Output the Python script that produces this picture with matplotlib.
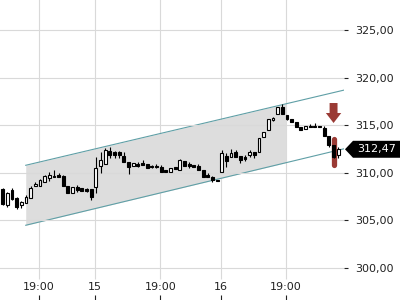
import numpy as np
import matplotlib
matplotlib.use("Agg")
import matplotlib.pyplot as plt
from matplotlib.patches import Polygon
from matplotlib.transforms import blended_transform_factory

# data candle (per index)
opens = [308.30, 306.62, 308.19, 307.35, 306.62, 306.83, 307.35, 308.62, 308.62, 309.03,
         309.45, 309.66, 309.77, 309.66, 308.62, 307.87, 308.51, 308.40, 308.30, 308.30,
         308.51, 310.71, 310.93, 312.29, 312.19, 312.19, 311.77, 311.13, 310.71, 310.93,
         311.03, 310.93, 310.71, 310.71, 310.61, 310.29, 310.08, 310.61, 310.29, 311.24,
         310.93, 310.82, 310.71, 310.29, 309.77, 309.56, 309.24, 310.08, 311.77, 311.66,
         312.19, 311.77, 311.66, 311.87, 312.19, 312.19, 313.76, 314.50, 315.55, 316.18,
         316.91, 316.07, 315.65, 315.34, 314.81, 314.60, 314.92, 314.92, 314.92, 314.71,
         313.87, 312.92, 311.87]
highs = [308.40, 307.98, 308.40, 307.46, 307.04, 307.67, 308.62, 309.03, 309.35, 309.77,
         310.08, 310.29, 309.97, 309.77, 308.62, 308.51, 308.72, 308.40, 308.40, 308.30,
         311.66, 312.19, 312.61, 312.71, 312.29, 312.29, 312.19, 311.13, 311.03, 311.13,
         311.34, 310.93, 310.82, 310.93, 310.82, 310.29, 310.50, 310.61, 311.45, 311.24,
         311.13, 310.82, 310.93, 310.29, 309.97, 309.66, 309.24, 312.39, 312.08, 312.50,
         312.39, 311.77, 311.87, 312.39, 312.19, 313.66, 314.28, 315.65, 315.86, 316.91,
         317.23, 316.07, 315.65, 315.34, 314.81, 314.92, 315.13, 315.23, 314.92, 314.92,
         313.87, 312.92, 312.71]
lows = [306.62, 306.41, 307.14, 306.20, 306.30, 306.83, 307.35, 308.62, 308.62, 309.03,
        309.14, 309.56, 309.56, 308.62, 307.87, 307.87, 307.98, 308.09, 307.98, 307.14,
        307.87, 309.97, 310.93, 311.55, 311.55, 311.55, 311.13, 309.87, 310.71, 310.61,
        310.82, 310.50, 310.50, 310.50, 310.08, 310.08, 310.08, 310.40, 310.29, 310.71,
        310.50, 310.61, 310.29, 309.56, 309.56, 309.03, 309.19, 310.08, 310.61, 311.66,
        311.66, 311.03, 311.24, 311.66, 311.55, 312.19, 313.76, 314.50, 315.44, 316.18,
        316.18, 315.55, 315.34, 314.81, 314.50, 314.60, 314.81, 314.81, 314.81, 313.87,
        312.71, 311.55, 311.55]
closes = [306.72, 307.87, 307.25, 306.41, 306.93, 307.46, 308.40, 308.82, 309.24, 309.66,
          309.77, 309.58, 309.56, 308.62, 307.87, 308.51, 308.19, 308.09, 308.09, 307.46,
          310.50, 311.34, 312.39, 311.87, 311.87, 311.87, 311.13, 310.61, 311.03, 310.71,
          310.82, 310.50, 310.61, 310.61, 310.08, 310.08, 310.50, 310.40, 311.34, 310.71,
          310.71, 310.61, 310.29, 309.56, 309.56, 309.24, 309.19, 312.08, 311.24, 312.08,
          311.66, 311.34, 311.45, 312.19, 311.87, 313.66, 314.28, 315.65, 315.76, 316.91,
          316.18, 315.65, 315.34, 314.81, 314.50, 314.92, 314.81, 314.81, 314.81, 313.87,
          312.92, 311.66, 312.47]

# sumbu x
tick_pos = [7.8, 19.8, 33.8, 46.9, 60.8]
tick_labels = ["19:00", "15", "19:00", "16", "19:00"]
price_ticks = [300, 305, 310, 315, 320, 325]

# trend channel (index, harga)
channel_x = [4.94, 73.45]
channel_upper = [310.79, 318.71]
channel_lower = [304.49, 312.55]
channel_fill_end = 60.8

# sinyal jual
signal_idx = 71
signal_bar = [310.87, 313.55]
arrow_tip = 315.23
arrow_top = 317.33

x = np.arange(len(closes))
o = np.array(opens)
c = np.array(closes)
naik = c >= o

fig = plt.figure(figsize=(4, 3), dpi=100)
ax = fig.add_axes([0, 0, 344 / 400, 1])
ax.set_xlim(-0.58, 73.24)
ax.set_ylim(296.64, 328.15)

# grid
ax.set_yticks(price_ticks)
ax.grid(axis='y', color='#d9d9d9', linewidth=0.8, zorder=0)
ax.vlines(tick_pos, 298.8, 330, color='#d9d9d9', linewidth=0.8, zorder=0)

# channel
xf = np.linspace(channel_x[0], channel_fill_end, 50)
up_f = np.interp(xf, channel_x, channel_upper)
lo_f = np.interp(xf, channel_x, channel_lower)
ax.fill_between(xf, lo_f, up_f, color='#dddddd', linewidth=0, zorder=0.5)
ax.plot(channel_x, channel_upper, color='#5f9fa6', linewidth=0.8, zorder=1)
ax.plot(channel_x, channel_lower, color='#5f9fa6', linewidth=0.8, zorder=1)

# sinyal (bar merah dan panah)
merah = '#9a3a34'
ax.plot([signal_idx, signal_idx], signal_bar, color=merah, linewidth=3.8,
        solid_capstyle='round', zorder=1.8)
head = arrow_top - (arrow_top - arrow_tip) / 2
arrow = Polygon([(signal_idx - 0.85, arrow_top), (signal_idx + 0.85, arrow_top),
                 (signal_idx + 0.85, head), (signal_idx + 1.65, head),
                 (signal_idx, arrow_tip), (signal_idx - 1.65, head),
                 (signal_idx - 0.85, head)],
                closed=True, facecolor=merah, edgecolor='none', zorder=3)
ax.add_patch(arrow)

# candlestick
ax.vlines(x, lows, highs, color='black', linewidth=0.8, zorder=2)
body = np.where(np.abs(c - o) < 0.03, 0.03, c - o)
ax.bar(x, body, bottom=o, width=0.62, color=np.where(naik, 'white', 'black'),
       edgecolor='black', linewidth=0.8, zorder=3)

# sumbu
for s in ax.spines.values():
    s.set_visible(False)
ax.set_xticks(tick_pos)
ax.set_xticklabels(tick_labels)
ax.tick_params(axis='x', direction='in', length=3.5, width=0.8, pad=-13,
               labelsize=8, colors='#222222')
ax.yaxis.tick_right()
ax.set_yticklabels([f"{v:.2f}".replace('.', ',') for v in price_ticks])
ax.tick_params(axis='y', direction='out', length=3, width=0.8, pad=5,
               labelsize=8, colors='#222222')

# label harga terakhir
last = closes[-1]
tr = blended_transform_factory(fig.transFigure, ax.transData)
label = Polygon([(345 / 400, last), (353 / 400, last + 0.89), (1.0, last + 0.89),
                 (1.0, last - 0.89), (353 / 400, last - 0.89)],
                closed=True, facecolor='black', edgecolor='none',
                transform=tr, clip_on=False, zorder=5)
fig.patches.append(label)
fig.text(357 / 400, last, f"{last:.2f}".replace('.', ','), transform=tr,
         color='white', fontsize=8, va='center', ha='left', zorder=6)

fig.savefig("out.png", dpi=100)
